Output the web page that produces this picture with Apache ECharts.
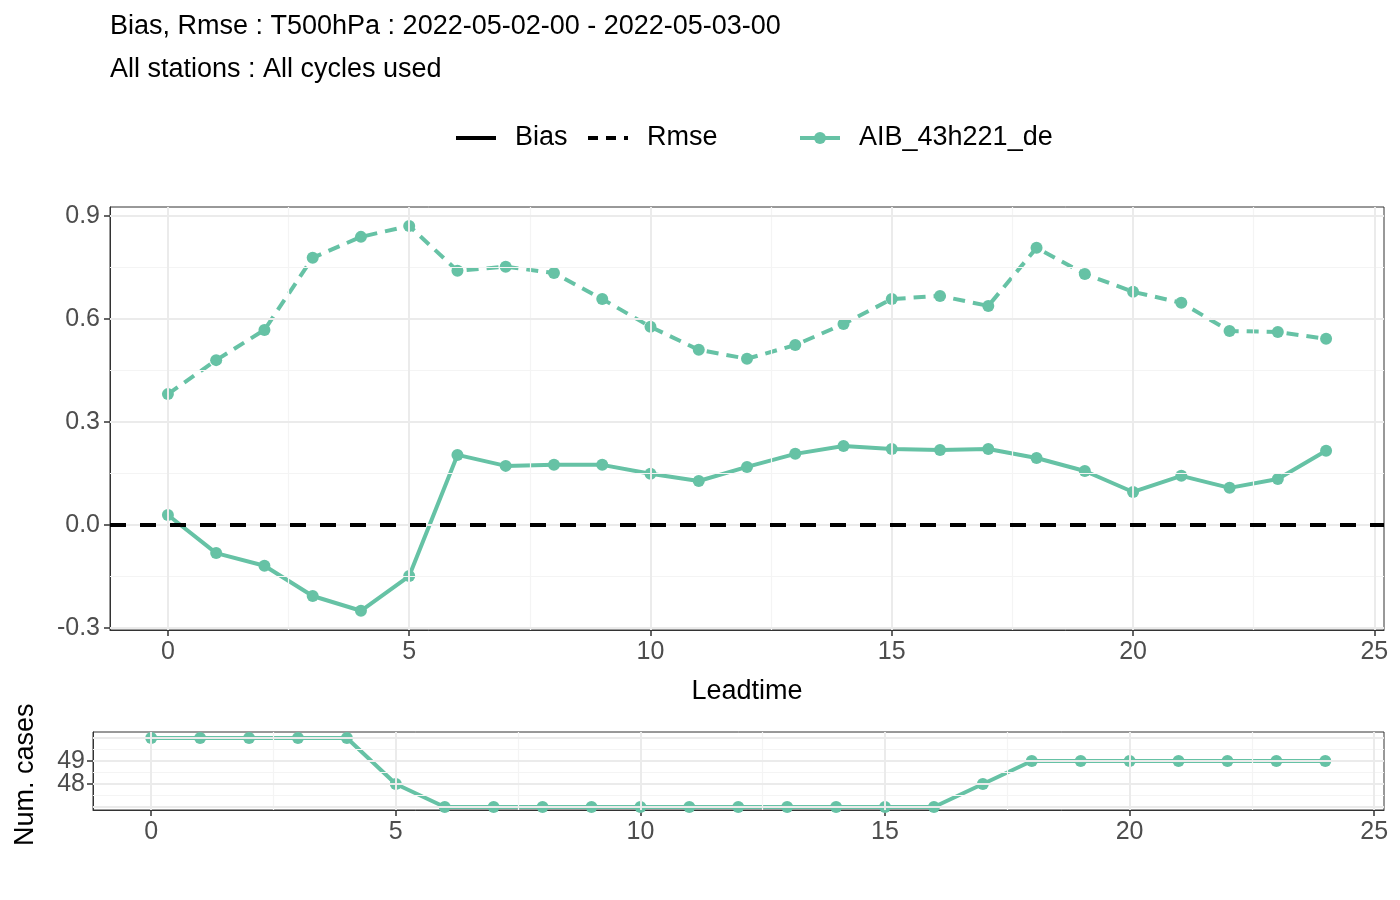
<!DOCTYPE html>
<html><head><meta charset="utf-8">
<script src="https://cdn.jsdelivr.net/npm/echarts@6/dist/echarts.min.js"></script>
<style>html,body{margin:0;background:#fff}#c{width:1400px;height:900px}</style>
</head><body><div id="c"></div>
<script>
const leadtime = [0,1,2,3,4,5,6,7,8,9,10,11,12,13,14,15,16,17,18,19,20,21,22,23,24];
const rmse = [0.381,0.480,0.568,0.778,0.839,0.871,0.740,0.752,0.734,0.658,0.577,0.510,0.484,0.524,0.585,0.658,0.667,0.638,0.807,0.731,0.679,0.647,0.565,0.562,0.542];
const bias = [0.029,-0.082,-0.119,-0.207,-0.250,-0.149,0.204,0.172,0.175,0.175,0.149,0.128,0.169,0.207,0.230,0.221,0.218,0.221,0.195,0.157,0.096,0.143,0.108,0.134,0.216];
const cases = [50,50,50,50,50,48,47,47,47,47,47,47,47,47,47,47,47,48,49,49,49,49,49,49,49];
const xTicks = [0,5,10,15,20,25];
const yTicks = [-0.3,0,0.3,0.6,0.9];
const caseTicks = [47,48,49,50];
const col = '#66c2a5';
const F = 'Liberation Sans, Arial, sans-serif';
const chart = echarts.init(document.getElementById('c'));
const mids = t => { const m=[t[0]-(t[1]-t[0])/2]; for(let i=0;i<t.length-1;i++) m.push((t[i]+t[i+1])/2); m.push(t[t.length-1]+(t[1]-t[0])/2); return m; };
function gridSeries(xi, yi, xs, ys){
  const mk = (arr, key, c, w) => arr.map(v => ({[key]:v, lineStyle:{color:c,width:w,type:'solid'}}));
  return {type:'line',xAxisIndex:xi,yAxisIndex:yi,data:[],z:1,silent:true,
    markLine:{silent:true,symbol:'none',label:{show:false},animation:false,
      data:[].concat(mk(mids(xs),'xAxis','#f4f4f4',1.2),mk(mids(ys),'yAxis','#f4f4f4',1.2),mk(xs,'xAxis','#ebebeb',2),mk(ys,'yAxis','#ebebeb',2))}};
}
const lbl = {color:'#4d4d4d',fontSize:25,fontFamily:F};
function xAxis(gi, min, max){
  return {type:'value', gridIndex:gi, min:min, max:max,
    axisLine:{show:true,onZero:false,lineStyle:{color:'#333'}},
    axisTick:{show:true,customValues:xTicks,length:6,lineStyle:{color:'#333',width:1.5}},
    axisLabel:Object.assign({customValues:xTicks,margin:10},lbl),
    splitLine:{show:false}};
}
function yAxis(gi, min, max, ticks, fmt, margin){
  return {type:'value',gridIndex:gi,min:min,max:max,
    axisLine:{show:true,onZero:false,lineStyle:{color:'#333'}},
    axisTick:{show:true,customValues:ticks,length:6,lineStyle:{color:'#333',width:1.5}},
    axisLabel:Object.assign({customValues:ticks,formatter:fmt,margin:margin},lbl),
    splitLine:{show:false}};
}
const pts = a => a.map((v,i)=>[leadtime[i],v]);
const T = {fontSize:27,fontFamily:F,fill:'#000'};
chart.setOption({
  animation:false,
  title:[{text:'Bias, Rmse : T500hPa : 2022-05-02-00 - 2022-05-03-00',left:105,top:8,textStyle:{fontSize:27,fontWeight:'normal',color:'#000',fontFamily:F}},
         {text:'All stations : All cycles used',left:105,top:51,textStyle:{fontSize:27,fontWeight:'normal',color:'#000',fontFamily:F}}],
  graphic:[
    {type:'line',shape:{x1:456,y1:138,x2:496,y2:138},style:{stroke:'#000',lineWidth:4}},
    {type:'text',x:515,y:124,style:Object.assign({text:'Bias'},T)},
    {type:'line',shape:{x1:588,y1:138,x2:628,y2:138},style:{stroke:'#000',lineWidth:4,lineDash:[10,8]}},
    {type:'text',x:647,y:124,style:Object.assign({text:'Rmse'},T)},
    {type:'line',shape:{x1:800,y1:138,x2:840,y2:138},style:{stroke:col,lineWidth:4}},
    {type:'circle',shape:{cx:820,cy:138,r:6},style:{fill:col}},
    {type:'text',x:859,y:124,style:Object.assign({text:'AIB_43h221_de'},T)},
    {type:'text',x:12,y:846,rotation:Math.PI/2,style:Object.assign({text:'Num. cases'},T)}
  ],
  grid:[{left:110,right:16,top:207,height:423,show:true,borderColor:'#333',borderWidth:1},
        {left:93,right:16,top:732,height:78,show:true,borderColor:'#333',borderWidth:1}],
  xAxis:[Object.assign(xAxis(0,-1.2,25.2),{name:'Leadtime',nameLocation:'middle',nameGap:48,nameTextStyle:{fontSize:27,color:'#000',fontFamily:F}}),
         xAxis(1,-1.19,25.2)],
  yAxis:[yAxis(0,-0.306,0.926,yTicks,v=>v.toFixed(1),10),
         yAxis(1,46.87,50.26,caseTicks,v=>String(v),8)],
  series:[
    gridSeries(0,0,xTicks,yTicks),
    gridSeries(1,1,xTicks,caseTicks),
    {type:'line',xAxisIndex:0,yAxisIndex:0,data:pts(bias),z:3,symbol:'circle',symbolSize:12,lineStyle:{color:col,width:4},itemStyle:{color:col},
     markLine:{silent:true,symbol:'none',label:{show:false},lineStyle:{color:'#000',width:4,type:[16,14]},data:[{yAxis:0}]}},
    {type:'line',xAxisIndex:0,yAxisIndex:0,data:pts(rmse),z:3,symbol:'circle',symbolSize:12,lineStyle:{color:col,width:4,type:[12,8]},itemStyle:{color:col}},
    {type:'line',xAxisIndex:1,yAxisIndex:1,data:pts(cases),z:3,symbol:'circle',symbolSize:12,lineStyle:{color:col,width:4},itemStyle:{color:col}}
  ]
});
</script></body></html>
